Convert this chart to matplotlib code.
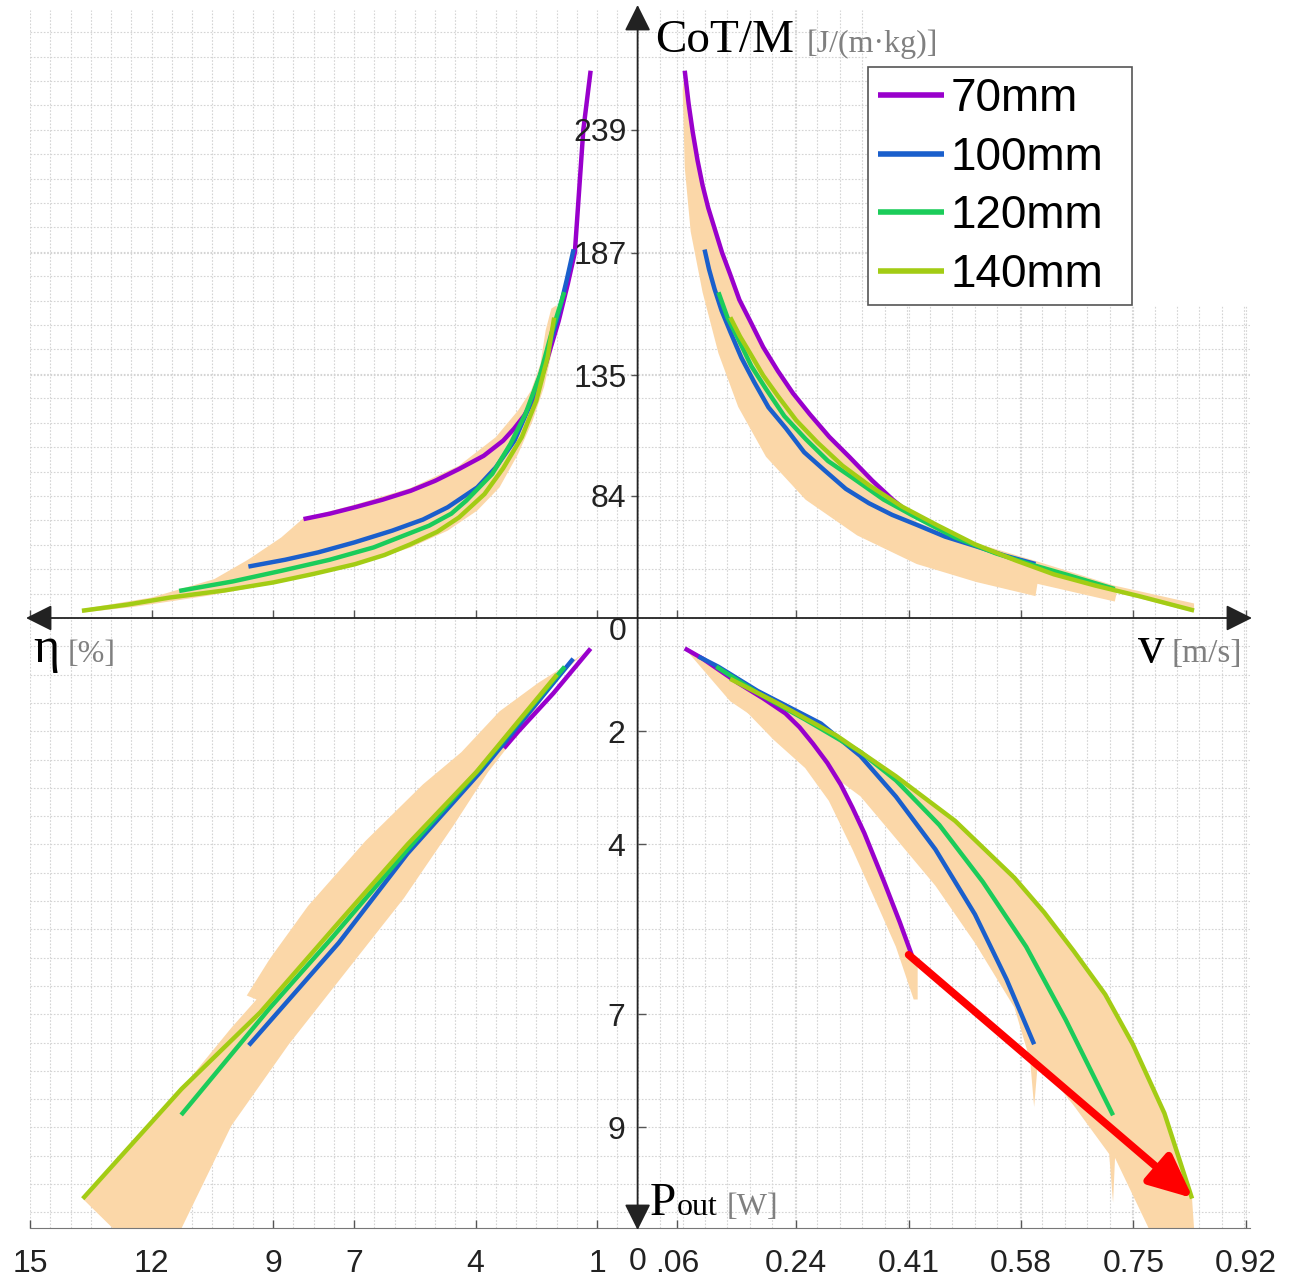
import numpy as np
import matplotlib.pyplot as plt
from matplotlib.patches import FancyArrowPatch, Rectangle

plt.rcParams['font.family'] = ['Liberation Sans', 'DejaVu Sans']

# ---------------- data ----------------
labels = ['70mm', '100mm', '120mm', '140mm']
colors = ['#9900cc', '#1a5fcc', '#1bcc5a', '#a3cc14']
band_color = '#fbd7a8'

# top left: efficiency [%] vs CoT/M
tl_eta_70 = [8.25, 7.60, 6.98, 6.30, 5.60, 5.00, 4.41, 3.80, 3.32, 3.05, 2.80, 2.55, 2.30, 1.95, 1.72, 1.55, 1.34, 1.16]
tl_cot_70 = [74.2, 76.5, 79.2, 82.4, 86.2, 90.4, 95.4, 101.0, 107.4, 112.5, 118.0, 125.5, 138.0, 158.0, 174.0, 187, 239, 264]
tl_eta_100 = [9.61, 8.70, 7.89, 7.00, 6.06, 5.30, 4.69, 3.96, 3.50, 3.04, 2.68, 2.31, 1.99, 1.75, 1.58]
tl_cot_100 = [54.1, 57.0, 60.1, 64.3, 69.3, 74.0, 79.2, 87.6, 96.1, 107.4, 121.6, 139.9, 158.3, 175.4, 188.4]
tl_eta_120 = [11.32, 10.00, 8.80, 7.60, 6.52, 5.15, 4.60, 4.23, 3.59, 3.14, 2.77, 2.40, 2.13, 1.81]
tl_cot_120 = [43.8, 47.8, 52.3, 57.0, 62.2, 71.4, 76.5, 82.0, 93.3, 106.0, 118.7, 135.7, 152.7, 170.3]
tl_eta_140 = [13.72, 12.60, 11.55, 10.20, 8.99, 8.00, 6.98, 6.25, 5.60, 4.95, 4.41, 3.78, 3.32, 2.86, 2.50, 2.22, 2.06]
tl_cot_140 = [35.4, 38.0, 41.0, 44.0, 47.4, 51.0, 55.1, 59.0, 63.6, 68.8, 74.9, 84.8, 95.7, 108.9, 124.4, 142.8, 159.5]
tl_band_eta = [13.72, 12.00, 10.45, 9.67, 9.53, 8.80, 8.25, 6.98, 5.60, 4.41, 3.50, 2.95, 2.63,
               2.40, 2.27, 2.13, 2.00, 1.95, 2.09, 2.31, 2.59, 2.95, 3.41, 3.96, 4.69, 5.60,
               6.98, 8.80, 10.63, 12.46, 13.72]
tl_band_cot = [36.1, 41.0, 48.8, 56.5, 58.0, 66.4, 74.6, 80.3, 87.4, 96.8, 108.9, 120.2, 128.6,
               139.9, 154.1, 163.3, 164.7, 159.7, 147.0, 130.1, 115.9, 101.8, 87.6, 77.8, 69.3,
               62.2, 54.4, 47.4, 41.7, 37.0, 34.6]

# top right: speed [m/s] vs CoT/M
tr_v_70 = [0.0713, 0.0772, 0.0833, 0.0907, 0.0983, 0.1068, 0.1163, 0.1278, 0.1402, 0.1540,
           0.1702, 0.1900, 0.2122, 0.2350, 0.2602, 0.2900, 0.3201, 0.3550, 0.3861, 0.41]
tr_cot_70 = [264.0, 250.0, 238.2, 226.0, 215.5, 206.0, 197.4, 187.0, 177.7, 167.0,
             158.1, 147.0, 136.9, 127.5, 118.7, 109.0, 100.6, 90.5, 82.4, 77.0]
tr_v_100 = [0.1013, 0.1080, 0.1163, 0.1270, 0.1402, 0.1570, 0.1762, 0.1980, 0.2242, 0.2520,
            0.2842, 0.3150, 0.3501, 0.3850, 0.4221, 0.4650, 0.5120, 0.5550, 0.6019]
tr_cot_100 = [188.3, 180.0, 171.7, 162.5, 153.5, 142.5, 132.3, 121.5, 112.7, 102.5,
              94.5, 87.0, 80.9, 76.0, 71.8, 66.8, 62.7, 58.8, 55.2]
tr_v_120 = [0.1223, 0.1360, 0.1522, 0.1720, 0.1942, 0.2220, 0.2542, 0.2880, 0.3261, 0.3720,
            0.4221, 0.4800, 0.5420, 0.6000, 0.6499, 0.7219]
tr_cot_120 = [170.2, 159.5, 150.5, 139.0, 129.3, 117.8, 108.1, 98.8, 91.5, 82.5,
              74.8, 66.5, 59.7, 54.6, 50.6, 44.6]
tr_v_140 = [0.1402, 0.1550, 0.1702, 0.1900, 0.2122, 0.2400, 0.2722, 0.3100, 0.3501, 0.4000,
            0.4520, 0.5100, 0.5720, 0.6300, 0.6919, 0.7600, 0.8418]
tr_cot_140 = [159.6, 151.5, 144.4, 135.0, 126.3, 116.0, 106.6, 96.8, 88.5, 79.5,
              71.8, 63.6, 56.7, 50.8, 46.1, 41.5, 35.5]
tr_band_v = [0.0713, 0.0833, 0.0983, 0.1163, 0.1402, 0.1702, 0.2122, 0.2602, 0.3201, 0.3861,
             0.4221, 0.5120, 0.6019, 0.7219, 0.8418, 0.8418, 0.7249, 0.7219, 0.6049, 0.6019,
             0.5120, 0.4221, 0.3321, 0.2542, 0.1942, 0.1522, 0.1223, 0.0983, 0.0803, 0.0713, 0.0683]
tr_band_cot = [264.0, 238.2, 215.5, 197.4, 177.7, 158.1, 136.9, 118.7, 100.6, 82.4,
               73.0, 64.0, 56.5, 46.0, 38.5, 34.7, 43.1, 39.3, 46.8, 41.6,
               47.6, 55.2, 67.3, 82.4, 100.6, 121.7, 144.4, 170.2, 195.9, 223.1, 255.6]

# bottom left: efficiency [%] vs output power [W]
bl_eta_70 = [1.16, 2.08, 2.94, 3.30]
bl_p_70 = [0.54, 1.33, 2.00, 2.30]
bl_eta_100 = [1.59, 3.88, 5.68, 7.38, 9.60]
bl_p_100 = [0.72, 2.72, 4.16, 5.74, 7.55]
bl_eta_120 = [1.80, 3.88, 5.68, 7.57, 9.08, 11.27]
bl_p_120 = [0.86, 2.65, 4.09, 5.67, 6.89, 8.78]
bl_eta_140 = [1.99, 3.98, 5.68, 7.38, 9.32, 11.26, 13.70]
bl_p_140 = [1.00, 2.72, 4.00, 5.38, 6.97, 8.32, 10.26]
bl_band_eta = [1.52, 2.46, 3.41, 4.35, 5.30, 6.72, 8.14, 9.08, 9.65, 9.41, 10.03, 11.92, 13.70,
               12.96, 11.26, 10.03, 8.61, 7.19, 5.77, 4.54, 3.69, 2.84, 1.99, 1.30]
bl_band_p = [0.72, 1.15, 1.65, 2.37, 2.94, 3.94, 5.09, 6.02, 6.67, 6.74, 7.24, 8.89, 10.26,
             10.78, 10.78, 8.97, 7.53, 6.24, 4.95, 3.66, 2.72, 1.94, 1.07, 0.60]

# bottom right: speed [m/s] vs output power [W]
br_v_70 = [0.0713, 0.0981, 0.1519, 0.1900, 0.2236, 0.2450, 0.2654, 0.2870, 0.3072, 0.3250,
           0.3430, 0.3729, 0.3968, 0.4147]
br_p_70 = [0.537, 0.716, 1.147, 1.420, 1.685, 1.930, 2.222, 2.560, 2.940, 3.350,
           3.800, 4.661, 5.379, 5.953]
br_v_100 = [0.092, 0.1220, 0.1818, 0.2415, 0.2773, 0.3371, 0.3908, 0.4505, 0.5103, 0.5581, 0.5999]
br_p_100 = [0.68, 0.860, 1.290, 1.649, 1.864, 2.438, 3.155, 4.088, 5.235, 6.383, 7.531]
br_v_120 = [0.1190, 0.1818, 0.2534, 0.3371, 0.3908, 0.4565, 0.5222, 0.5879, 0.6477, 0.7193]
br_p_120 = [0.860, 1.326, 1.792, 2.366, 2.868, 3.657, 4.661, 5.809, 7.100, 8.786]
br_v_140 = [0.1400, 0.2116, 0.3012, 0.3908, 0.4804, 0.5700, 0.6150, 0.6596, 0.7074, 0.7492,
            0.7970, 0.8388]
br_p_140 = [1.075, 1.505, 2.079, 2.796, 3.585, 4.590, 5.200, 5.881, 6.650, 7.531,
            8.750, 10.257]
br_band_v = [0.0713, 0.0981, 0.1220, 0.1818, 0.2415, 0.2773, 0.3371, 0.3908, 0.4804, 0.5700,
             0.6596, 0.7074, 0.7492, 0.7970, 0.8388, 0.8418, 0.7731, 0.7223, 0.7193, 0.7134,
             0.6596, 0.6058, 0.5999, 0.5939, 0.5700, 0.5103, 0.4505, 0.3789, 0.3371, 0.2714,
             0.1997, 0.1400]
br_band_p = [0.537, 0.716, 0.860, 1.290, 1.649, 1.864, 2.400, 2.796, 3.585, 4.590,
             5.881, 6.650, 7.531, 8.750, 10.257, 10.78, 10.78, 9.54, 10.33, 9.47,
             8.61, 7.82, 8.64, 7.82, 6.88, 5.74, 4.73, 3.73, 3.15, 2.58,
             1.94, 1.47]
br_band70_v = [0.1519, 0.2236, 0.2654, 0.3072, 0.3430, 0.3729, 0.3968, 0.4147, 0.4237, 0.4237,
               0.4177, 0.3908, 0.3609, 0.3251, 0.2893, 0.2534, 0.2056, 0.1519]
br_band70_p = [1.147, 1.685, 2.222, 2.940, 3.800, 4.661, 5.379, 5.953, 6.02, 6.74,
               6.74, 5.81, 5.02, 4.09, 3.23, 2.65, 2.15, 1.50]

arrow_start = (0.41, 5.95)
arrow_end = (0.84, 10.25)

eta_ticks = [1, 4, 7, 9, 12, 15]
v_ticks = [0.06, 0.24, 0.41, 0.58, 0.75, 0.92]
v_ticklabels = ['.06', '0.24', '0.41', '0.58', '0.75', '0.92']
cot_ticks = [84, 135, 187, 239]
p_ticks = [2, 4, 7, 9]

# ---------------- layout (pixels of the 1294x1278 canvas) ----------------
W, H = 1294, 1278
xc, yc = 637.6, 618
x_left, x_right, y_top, y_bot = 30, 1250, 10, 1228


def fx(x):
    return x / W


def fy(y):
    return 1 - y / H


eta_max = (xc - x_left) / 40.5
v_max = (x_right - xc) / 661
cot_min = 32.4
cot_max = cot_min + (yc - y_top) / 2.363
p_max = (y_bot - yc) / 56.6

fig = plt.figure(figsize=(W / 100, H / 100), dpi=100)
ax_tl = fig.add_axes([fx(x_left), fy(yc), (xc - x_left) / W, (yc - y_top) / H])
ax_tr = fig.add_axes([fx(xc), fy(yc), (x_right - xc) / W, (yc - y_top) / H])
ax_bl = fig.add_axes([fx(x_left), fy(y_bot), (xc - x_left) / W, (y_bot - yc) / H])
ax_br = fig.add_axes([fx(xc), fy(y_bot), (x_right - xc) / W, (y_bot - yc) / H])

ax_tl.set_xlim(eta_max, 0)
ax_bl.set_xlim(eta_max, 0)
ax_tr.set_xlim(0, v_max)
ax_br.set_xlim(0, v_max)
ax_tl.set_ylim(cot_min, cot_max)
ax_tr.set_ylim(cot_min, cot_max)
ax_bl.set_ylim(p_max, 0)
ax_br.set_ylim(p_max, 0)

grid_kw = dict(color='#d4d4d4', lw=0.8, ls=(0, (1.5, 1.5)))
cot_step = (239 - 84) / 15
for ax in (ax_tl, ax_tr, ax_bl, ax_br):
    ax.set_facecolor('none')
    for s in ax.spines.values():
        s.set_visible(False)
    ax.set_axisbelow(True)
    if ax in (ax_tl, ax_bl):
        ax.set_xticks(eta_ticks)
        ax.set_xticks(np.arange(0, 15.01, 0.5), minor=True)
    else:
        ax.set_xticks(v_ticks)
        ax.set_xticks(np.arange(0, 0.93, 0.034), minor=True)
    if ax in (ax_tl, ax_tr):
        ax.set_yticks(cot_ticks)
        ax.set_yticks(np.arange(84 - 5 * cot_step, 290, cot_step), minor=True)
    else:
        ax.set_yticks(p_ticks)
        ax.set_yticks(np.arange(0, 10.8, 0.5), minor=True)
    ax.grid(which='both', **grid_kw)
    ax.tick_params(which='minor', length=0)
    ax.tick_params(which='major', direction='in', length=6, width=1, color='#555555',
                   labelsize=23, labelcolor='#222222',
                   labelbottom=False, labelleft=False)

# bottom axis with labels
for ax in (ax_bl, ax_br):
    ax.spines['bottom'].set_visible(True)
    ax.spines['bottom'].set_color('#777777')
    ax.tick_params(axis='x', labelbottom=True, pad=15)
ax_br.set_xticklabels(v_ticklabels)
ax_bl.set_xticklabels([str(t) for t in eta_ticks])

# vertical axis labels (left of the central line)
ax_tr.tick_params(axis='y', direction='out', length=5, labelleft=True, pad=3)
ax_tl.tick_params(axis='y', length=0)
ax_bl.tick_params(axis='y', length=0)
ax_br.tick_params(axis='y', labelleft=True, pad=9)

# bands
ax_tl.fill(tl_band_eta, tl_band_cot, color=band_color, lw=0, zorder=2)
ax_tr.fill(tr_band_v, tr_band_cot, color=band_color, lw=0, zorder=2)
ax_bl.fill(bl_band_eta, bl_band_p, color=band_color, lw=0, zorder=2)
ax_br.fill(br_band_v, br_band_p, color=band_color, lw=0, zorder=2)
ax_br.fill(br_band70_v, br_band70_p, color=band_color, lw=0, zorder=2)

# curves
tl = [(tl_eta_70, tl_cot_70), (tl_eta_100, tl_cot_100), (tl_eta_120, tl_cot_120), (tl_eta_140, tl_cot_140)]
tr = [(tr_v_70, tr_cot_70), (tr_v_100, tr_cot_100), (tr_v_120, tr_cot_120), (tr_v_140, tr_cot_140)]
bl = [(bl_eta_70, bl_p_70), (bl_eta_100, bl_p_100), (bl_eta_120, bl_p_120), (bl_eta_140, bl_p_140)]
br = [(br_v_70, br_p_70), (br_v_100, br_p_100), (br_v_120, br_p_120), (br_v_140, br_p_140)]
line_kw = dict(lw=3.2, zorder=3, solid_capstyle='butt', solid_joinstyle='round')
handles = []
for i in range(4):
    ax_tl.plot(*tl[i], color=colors[i], **line_kw)
    h, = ax_tr.plot(*tr[i], color=colors[i], label=labels[i], **line_kw)
    ax_bl.plot(*bl[i], color=colors[i], **line_kw)
    ax_br.plot(*br[i], color=colors[i], **line_kw)
    handles.append(h)

ax_br.annotate('', xy=arrow_end, xytext=arrow_start,
               arrowprops=dict(arrowstyle='-|>,head_length=1.1,head_width=0.5',
                               color='#ff0000', lw=5.5, mutation_scale=24,
                               shrinkA=0, shrinkB=0), zorder=4)

# central axes with arrow heads
arr_kw = dict(transform=fig.transFigure, color='#222222', lw=1.3,
              mutation_scale=18, shrinkA=0, shrinkB=0, zorder=6)
fig.add_artist(FancyArrowPatch((fx(26), fy(yc)), (fx(1252), fy(yc)),
                               arrowstyle='<|-|>,head_length=0.9,head_width=0.45', **arr_kw))
fig.add_artist(FancyArrowPatch((fx(xc), fy(y_bot + 2)), (fx(xc), fy(5)),
                               arrowstyle='<|-|>,head_length=0.9,head_width=0.45', **arr_kw))

# white area behind the legend, legend frame drawn as a box
fig.add_artist(Rectangle((fx(868), fy(305)), (W - 868) / W, 305 / H,
                         transform=fig.transFigure, color='white', zorder=1))
fig.add_artist(Rectangle((fx(868), fy(305)), 264 / W, 238 / H, transform=fig.transFigure,
                         facecolor='white', edgecolor='#555555', lw=1.2, zorder=4))
leg = fig.legend(handles=handles, loc='upper left', bbox_to_anchor=(fx(868), fy(67)),
                 fontsize=33, frameon=False,
                 handlelength=1.44, handletextpad=0.15, labelspacing=0.32,
                 borderpad=0.22, borderaxespad=0)
for ln in leg.get_lines():
    ln.set_linewidth(4)

# axis names
serif = 'Liberation Serif'
gray = '#808080'
fig.text(fx(655), fy(52), 'CoT/M', family=serif, size=34, va='baseline', zorder=7)
fig.text(fx(807), fy(52), '[J/(m·kg)]', family=serif, size=23, color=gray, va='baseline', zorder=7)
fig.text(fx(33), fy(662), 'η', family=serif, size=36, va='baseline', zorder=7)
fig.text(fx(68), fy(662), '[%]', family=serif, size=23, color=gray, va='baseline', zorder=7)
fig.text(fx(1138), fy(662), 'v', family=serif, size=38, va='baseline', zorder=7)
fig.text(fx(1172), fy(662), '[m/s]', family=serif, size=24, color=gray, va='baseline', zorder=7)
fig.text(fx(650), fy(1215), 'P', family=serif, size=34, va='baseline', zorder=7)
fig.text(fx(677), fy(1215), 'out', family=serif, size=23, va='baseline', zorder=7)
fig.text(fx(727), fy(1215), '[W]', family=serif, size=23, color=gray, va='baseline', zorder=7)

# shared zeros
fig.text(fx(627), fy(632), '0', size=23, color='#222222', ha='right', va='center', zorder=7)
fig.text(fx(xc), fy(1262), '0', size=23, color='#222222', ha='center', va='center', zorder=7)

fig.savefig('out.png', dpi=100)
